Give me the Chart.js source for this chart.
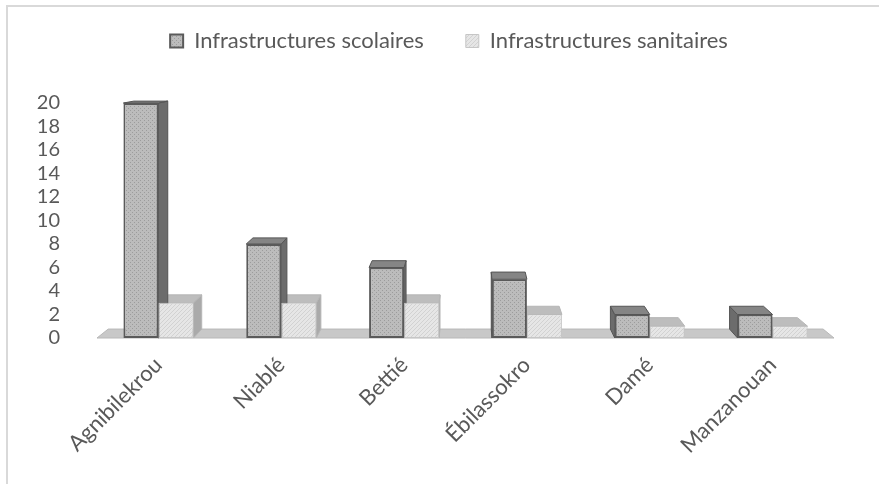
<!DOCTYPE html>
<html>
<head>
<meta charset="utf-8">
<script src="https://cdn.jsdelivr.net/npm/chart.js"></script>
<style>
  html, body { margin: 0; padding: 0; background: #fff; }
  #cadre { position: absolute; left: 6px; top: 5px; width: 1000px; height: 1000px;
           border-top: 2px solid #d9d9d9; border-left: 2px solid #d9d9d9; }
  #chart { position: absolute; left: 0; top: 0; }
</style>
</head>
<body>
<div id="cadre"></div>
<canvas id="chart" width="879" height="484"></canvas>
<script>
const localites = ['Agnibilekrou', 'Niablé', 'Bettié', 'Ébilassokro', 'Damé', 'Manzanouan'];
const scolaires = [20, 8, 6, 5, 2, 2];
const sanitaires = [3, 3, 3, 2, 1, 1];
const graduations = [0, 2, 4, 6, 8, 10, 12, 14, 16, 18, 20];

const police = { family: 'Lato', size: 22 };
const policeY = { family: 'Lato', size: 20, lineHeight: 1 };
const gris = '#595959';

const ctx = document.getElementById('chart').getContext('2d');

// petits motifs de remplissage (points / hachures)
function motif(fond, trait, type) {
  const c = document.createElement('canvas');
  c.width = 4; c.height = 4;
  const g = c.getContext('2d');
  g.fillStyle = fond;
  g.fillRect(0, 0, 4, 4);
  g.fillStyle = trait;
  if (type === 'points') {
    g.fillRect(0, 0, 1, 1);
    g.fillRect(2, 2, 1, 1);
  } else {
    for (let i = 0; i < 4; i++) g.fillRect(i, 3 - i, 1, 1);
  }
  return ctx.createPattern(c, 'repeat');
}

const faces = [
  { dessus: '#858585', cote: '#6c6c6c', bord: '#555555' },
  { dessus: '#bdbdbd', cote: '#aaaaaa', bord: '#b5b5b5' }
];

// perspective : point de fuite
const S = 0.97, VX = 470, VY = 40;
function fond(x, y) {
  return [VX + (x - VX) * S, VY + (y - VY) * S];
}

function poly(c, pts, fill, stroke) {
  c.beginPath();
  c.moveTo(pts[0][0], pts[0][1]);
  pts.slice(1).forEach(p => c.lineTo(p[0], p[1]));
  c.closePath();
  c.fillStyle = fill;
  c.fill();
  if (stroke) {
    c.strokeStyle = stroke;
    c.lineWidth = 1;
    c.stroke();
  }
}

const relief = {
  id: 'relief',
  beforeDatasetsDraw(chart) {
    const c = chart.ctx;
    const y0 = chart.scales.y.getPixelForValue(0);
    const { left, right } = chart.chartArea;
    c.save();
    // plancher
    poly(c, [[left, y0], [right, y0], fond(right, y0), fond(left, y0)], '#c8c8c8', '#b8b8b8');
    [1, 0].forEach(d => {
      const f = faces[d];
      chart.getDatasetMeta(d).data.forEach(bar => {
        const { x, y, base, width } = bar.getProps(['x', 'y', 'base', 'width'], true);
        const l = x - width / 2, r = x + width / 2;
        let e = null;
        if (r < VX) e = r;
        else if (l > VX) e = l;
        if (e !== null) {
          poly(c, [[e, y], [e, base], fond(e, base), fond(e, y)], f.cote, f.bord);
        }
        poly(c, [[l, y], [r, y], fond(r, y), fond(l, y)], f.dessus, f.bord);
      });
    });
    c.restore();
  }
};

// espace sous la légende et léger décalage vers la droite
const ecartLegende = {
  id: 'ecartLegende',
  beforeInit(chart) {
    const fit = chart.legend.fit;
    chart.legend.fit = function () {
      fit.bind(chart.legend)();
      this.height += 41;
    };
  },
  afterLayout(chart) {
    chart.legend.left += 32;
    chart.legend.right += 32;
  }
};

new Chart(ctx, {
  type: 'bar',
  data: {
    labels: localites,
    datasets: [{
      label: 'Infrastructures scolaires',
      data: scolaires,
      backgroundColor: motif('#bcbcbc', '#9c9c9c', 'points'),
      borderColor: '#5a5a5a',
      borderWidth: 2,
      borderSkipped: false
    }, {
      label: 'Infrastructures sanitaires',
      data: sanitaires,
      backgroundColor: motif('#e6e6e6', '#d2d2d2', 'hachures'),
      borderColor: '#c6c6c6',
      borderWidth: 1,
      borderSkipped: false
    }]
  },
  options: {
    responsive: false,
    animation: false,
    layout: { padding: { top: -12, right: 45, left: 0, bottom: 0 } },
    datasets: { bar: { categoryPercentage: 0.57, barPercentage: 1 } },
    plugins: {
      legend: {
        position: 'top',
        labels: { boxWidth: 13, boxHeight: 13, padding: 42, color: gris, font: police }
      },
      tooltip: { enabled: false }
    },
    scales: {
      x: {
        grid: { display: false, drawTicks: false },
        border: { display: false },
        ticks: { minRotation: 45, maxRotation: 45, color: gris, font: police, padding: 14 },
        afterFit: s => { s.height = 146; }
      },
      y: {
        min: 0,
        max: 20,
        grid: { display: false, drawTicks: false },
        border: { display: false },
        ticks: { color: gris, font: policeY, padding: 37, autoSkip: false },
        afterBuildTicks: s => { s.ticks = graduations.map(v => ({ value: v })); },
        afterFit: s => { s.width = 97; }
      }
    }
  },
  plugins: [relief, ecartLegende]
});
</script>
</body>
</html>
